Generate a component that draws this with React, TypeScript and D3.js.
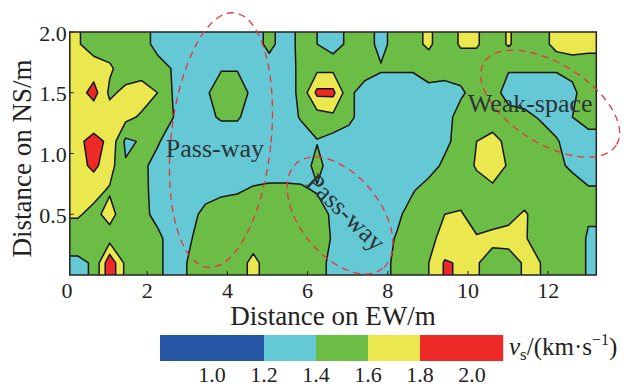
import React from 'react'
import * as d3 from 'd3'

// vs in km/s, one array per NS row (1.9 m down to 0.1 m),
// sampled every 0.4 m along EW (0.2 m ... 13.0 m)
const ns19 = [1.62, 1.5, 1.5, 1.5, 1.5, 1.32, 1.3, 1.3, 1.3, 1.3, 1.3, 1.3, 1.46, 1.3, 1.46, 1.4, 1.3, 1.45, 1.5, 1.33, 1.5, 1.55, 1.63, 1.5, 1.62, 1.62, 1.5, 1.62, 1.5, 1.5, 1.68, 1.72, 1.66]
const ns17 = [1.7, 1.7, 1.63, 1.5, 1.5, 1.5, 1.38, 1.3, 1.3, 1.38, 1.38, 1.3, 1.3, 1.3, 1.45, 1.55, 1.55, 1.5, 1.5, 1.42, 1.42, 1.42, 1.5, 1.5, 1.5, 1.5, 1.5, 1.42, 1.42, 1.42, 1.42, 1.45, 1.5]
const ns15 = [1.7, 1.88, 1.56, 1.65, 1.7, 1.6, 1.38, 1.3, 1.35, 1.56, 1.56, 1.32, 1.3, 1.3, 1.45, 1.85, 1.85, 1.45, 1.3, 1.3, 1.3, 1.3, 1.33, 1.3, 1.36, 1.5, 1.5, 1.3, 1.3, 1.3, 1.3, 1.36, 1.5]
const ns13 = [1.66, 1.64, 1.7, 1.66, 1.57, 1.5, 1.4, 1.3, 1.36, 1.42, 1.42, 1.32, 1.3, 1.3, 1.42, 1.5, 1.55, 1.45, 1.3, 1.3, 1.3, 1.3, 1.3, 1.3, 1.5, 1.5, 1.5, 1.5, 1.45, 1.38, 1.3, 1.4, 1.5]
const ns11 = [1.75, 1.88, 1.75, 1.36, 1.42, 1.42, 1.3, 1.3, 1.3, 1.3, 1.3, 1.3, 1.3, 1.3, 1.3, 1.39, 1.32, 1.3, 1.3, 1.3, 1.3, 1.3, 1.3, 1.34, 1.5, 1.6, 1.66, 1.55, 1.5, 1.5, 1.42, 1.3, 1.3]
const ns09 = [1.72, 1.85, 1.68, 1.42, 1.44, 1.34, 1.3, 1.3, 1.3, 1.3, 1.3, 1.3, 1.3, 1.3, 1.3, 1.46, 1.3, 1.3, 1.3, 1.3, 1.3, 1.3, 1.3, 1.45, 1.5, 1.62, 1.7, 1.58, 1.5, 1.5, 1.45, 1.36, 1.3]
const ns07 = [1.66, 1.66, 1.58, 1.5, 1.46, 1.32, 1.3, 1.3, 1.33, 1.36, 1.38, 1.42, 1.44, 1.44, 1.43, 1.38, 1.3, 1.3, 1.3, 1.3, 1.3, 1.38, 1.5, 1.5, 1.5, 1.52, 1.56, 1.5, 1.5, 1.5, 1.5, 1.5, 1.42]
const ns05 = [1.62, 1.55, 1.66, 1.5, 1.46, 1.34, 1.3, 1.34, 1.45, 1.5, 1.5, 1.55, 1.5, 1.5, 1.5, 1.5, 1.36, 1.3, 1.3, 1.3, 1.35, 1.5, 1.58, 1.6, 1.62, 1.5, 1.5, 1.55, 1.62, 1.52, 1.5, 1.5, 1.42]
const ns03 = [1.5, 1.5, 1.52, 1.5, 1.5, 1.45, 1.3, 1.38, 1.5, 1.5, 1.5, 1.5, 1.5, 1.5, 1.5, 1.5, 1.38, 1.3, 1.3, 1.3, 1.42, 1.5, 1.55, 1.66, 1.65, 1.62, 1.66, 1.66, 1.62, 1.5, 1.5, 1.5, 1.38]
const ns01 = [1.36, 1.42, 1.95, 1.55, 1.5, 1.45, 1.3, 1.42, 1.48, 1.5, 1.5, 1.66, 1.5, 1.5, 1.5, 1.48, 1.34, 1.3, 1.3, 1.32, 1.45, 1.58, 1.6, 1.82, 1.78, 1.62, 1.5, 1.52, 1.62, 1.6, 1.5, 1.5, 1.38]
const vsRows = [ns19, ns17, ns15, ns13, ns11, ns09, ns07, ns05, ns03, ns01]

const levels = [1.2, 1.4, 1.6, 1.8]
const levelColors = ['#64c8d5', '#6cbd45', '#ebe74e', '#ed2a28']
const lowColor = '#2556a5'

// colour bar
const barEdges = [0.8, 1.2, 1.4, 1.6, 1.8, 2.12]
const barColors = [lowColor, ...levelColors]
const barTicks = [1.0, 1.2, 1.4, 1.6, 1.8, 2.0]

const xTicks = [0, 2, 4, 6, 8, 10, 12]
const yTicks = [0.5, 1.0, 1.5, 2.0]

// dashed zones (centre in metres, radii in px)
const zones = [
  { cx: 3.84, cy: 1.11, rx: 50, ry: 128, angle: 6 },
  { cx: 6.81, cy: 0.49, rx: 68, ry: 40, angle: 51 },
  { cx: 12.05, cy: 1.41, rx: 78, ry: 40, angle: 32 }
]
const zoneLabels = [
  { text: 'Pass-way', x: 3.69, y: 1.045, angle: 0 },
  { text: 'Pass-way', x: 6.96, y: 0.52, angle: 44 },
  { text: 'Weak-space', x: 11.55, y: 1.42, angle: 0 }
]

const serif = { fontFamily: 'Liberation Serif, DejaVu Serif, serif' }

export default function App() {
  const width = 629
  const height = 388

  const x = d3.scaleLinear().domain([0, 13.2]).range([67, 596.3])
  const y = d3.scaleLinear().domain([0, 2]).range([275, 32])
  const left = x(0.07)
  const right = x(13.2)
  const top = y(2)
  const bottom = y(0)

  const n = vsRows[0].length
  const m = vsRows.length
  // pad one cell each side so bands meet the frame squarely
  const grid: number[] = []
  for (let j = -1; j <= m; j++) {
    const row = vsRows[Math.min(m - 1, Math.max(0, j))]
    for (let i = -1; i <= n; i++) grid.push(row[Math.min(n - 1, Math.max(0, i))])
  }
  const bands = d3.contours().size([n + 2, m + 2]).thresholds(levels)(grid)

  const gx = d3.scaleLinear().domain([1, n + 1]).range([left, right])
  const gy = d3.scaleLinear().domain([1, m + 1]).range([top, bottom])
  const path = d3.geoPath(
    d3.geoTransform({
      point(px: number, py: number) {
        this.stream.point(gx(px), gy(py))
      }
    })
  )

  const cb = d3.scaleLinear().domain([1.2, 1.4]).range([264, 316])

  return (
    <svg
      width={width}
      height={height}
      style={{ position: 'absolute', left: 0, top: 0, background: '#fff' }}
    >
      <defs>
        <clipPath id="plot">
          <rect x={left} y={top} width={right - left} height={bottom - top} />
        </clipPath>
      </defs>

      <g clipPath="url(#plot)">
        <rect x={left} y={top} width={right - left} height={bottom - top} fill={lowColor} />
        {bands.map((b, i) => (
          <path
            key={i}
            d={path(b as any) || ''}
            fill={levelColors[i]}
            stroke="#151515"
            strokeWidth={1.5}
            strokeLinejoin="round"
          />
        ))}
      </g>

      <rect
        x={left}
        y={top}
        width={right - left}
        height={bottom - top}
        fill="none"
        stroke="#222"
        strokeWidth={1.5}
      />

      {/* ticks */}
      {yTicks.map(t => (
        <g key={t}>
          <line x1={left} x2={left + 4} y1={y(t)} y2={y(t)} stroke="#222" />
          <text x={left - 3} y={y(t) + 1} dy="0.35em" textAnchor="end" fontSize={22} fill="#222" style={serif}>
            {t.toFixed(1)}
          </text>
        </g>
      ))}
      {xTicks.map(t => (
        <g key={t}>
          {t > 0 && <line x1={x(t)} x2={x(t)} y1={bottom} y2={bottom - 4} stroke="#222" />}
          <text x={x(t)} y={298} textAnchor="middle" fontSize={22} fill="#222" style={serif}>
            {t}
          </text>
        </g>
      ))}

      <text x={(left + right) / 2} y={325} textAnchor="middle" fontSize={27} fill="#222" style={serif}>
        Distance on EW/m
      </text>
      <text
        transform={`translate(31,${(top + bottom) / 2 + 5}) rotate(-90)`}
        textAnchor="middle"
        fontSize={27}
        fill="#222"
        style={serif}
      >
        Distance on NS/m
      </text>

      {/* annotations */}
      {zones.map((z, i) => (
        <ellipse
          key={i}
          cx={0}
          cy={0}
          rx={z.rx}
          ry={z.ry}
          transform={`translate(${x(z.cx)},${y(z.cy)}) rotate(${z.angle})`}
          fill="none"
          stroke="#e8343a"
          strokeWidth={1.3}
          strokeDasharray="7 5"
        />
      ))}
      {zoneLabels.map((l, i) => (
        <text
          key={i}
          transform={`translate(${x(l.x)},${y(l.y)}) rotate(${l.angle})`}
          dy="0.35em"
          textAnchor="middle"
          fontSize={26}
          fill="#2d3436"
          style={serif}
        >
          {l.text}
        </text>
      ))}

      {/* colour bar */}
      {barColors.map((c, i) => (
        <rect
          key={i}
          x={cb(barEdges[i])}
          y={335}
          width={cb(barEdges[i + 1]) - cb(barEdges[i])}
          height={26}
          fill={c}
        />
      ))}
      {barTicks.map(t => (
        <text key={t} x={cb(t)} y={382} textAnchor="middle" fontSize={22} fill="#222" style={serif}>
          {t.toFixed(1)}
        </text>
      ))}
      <text x={509} y={355} fontSize={25} fill="#222" style={serif}>
        <tspan fontStyle="italic">v</tspan>
        <tspan dy={5} fontSize={17}>s</tspan>
        <tspan dy={-5}>/(km·s</tspan>
        <tspan dy={-10} fontSize={16}>−1</tspan>
        <tspan dy={10}>)</tspan>
      </text>
    </svg>
  )
}
